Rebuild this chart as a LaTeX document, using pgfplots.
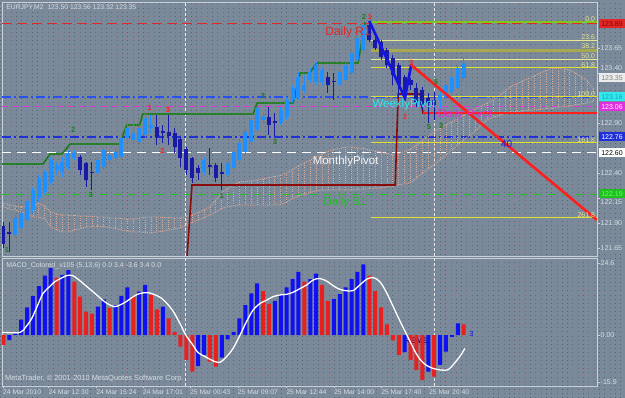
\documentclass[border=0pt]{standalone}
\usepackage{pgfplots}
\pgfplotsset{compat=1.18}
\usepackage{pgfplotstable}
\usepackage{fontspec}
\setmainfont{Liberation Sans}
\usetikzlibrary{patterns}

\definecolor{bg}{HTML}{7A8A9A}
\definecolor{bgdot}{HTML}{56636F}
\definecolor{bgpink}{HTML}{A07888}
\definecolor{frame}{HTML}{C8D0D8}
\definecolor{lbl}{HTML}{D8DEE4}
\definecolor{bullc}{HTML}{1E90FF}
\definecolor{bearc}{HTML}{1A1AA8}
\definecolor{macdb}{HTML}{1010F0}
\definecolor{macdr}{HTML}{E82020}
\definecolor{fibc}{HTML}{E0E030}
\definecolor{fibt}{HTML}{E8E890}
\definecolor{fibz}{HTML}{80C820}
\definecolor{fibo}{HTML}{A8A850}
\definecolor{cloudc}{HTML}{D8A898}
\definecolor{stair}{HTML}{2E8B2E}
\definecolor{stairdk}{HTML}{145014}
\definecolor{maroonc}{HTML}{8B0A0A}
\definecolor{redl}{HTML}{FF1E1E}
\definecolor{r1c}{HTML}{E02828}
\definecolor{pivb}{HTML}{2850F0}
\definecolor{pivb2}{HTML}{2030D8}
\definecolor{magc}{HTML}{E030E0}
\definecolor{cyanc}{HTML}{30E8F0}
\definecolor{grnc}{HTML}{20C020}
\definecolor{wavg}{HTML}{1F7A1F}
\definecolor{zzb}{HTML}{1414E6}

\pgfdeclarepatternformonly{bgdots}{\pgfqpoint{0pt}{0pt}}{\pgfqpoint{1pt}{1pt}}{\pgfqpoint{5.3pt}{4.1pt}}{%
  \pgfpathrectangle{\pgfqpoint{0pt}{0pt}}{\pgfqpoint{0.9pt}{0.9pt}}\pgfusepath{fill}}
\pgfdeclarepatternformonly{bgdots2}{\pgfqpoint{0pt}{0pt}}{\pgfqpoint{1pt}{1pt}}{\pgfqpoint{9.7pt}{7.3pt}}{%
  \pgfpathrectangle{\pgfqpoint{0pt}{0pt}}{\pgfqpoint{0.9pt}{0.9pt}}\pgfusepath{fill}}

\newcommand\sz[1]{\fontsize{#1}{#1}\selectfont}

\pgfplotstableread{
i o h l c
2 121.78 121.98 121.75 121.95
3 121.85 122.03 121.78 122.00
4 121.93 122.15 121.90 122.12
5 122.03 122.26 122.00 122.23
6 122.15 122.38 122.11 122.35
7 122.21 122.43 122.18 122.41
8 122.31 122.56 122.28 122.53
9 122.43 122.51 122.38 122.48
10 122.41 122.56 122.36 122.51
11 122.46 122.63 122.43 122.60
12 122.55 122.63 122.53 122.60
16 122.40 122.56 122.36 122.53
17 122.46 122.65 122.43 122.63
18 122.53 122.63 122.48 122.58
19 122.55 122.65 122.51 122.61
20 122.56 122.80 122.53 122.75
21 122.75 122.93 122.71 122.85
22 122.73 122.96 122.70 122.80
23 122.71 122.88 122.68 122.85
24 122.78 123.01 122.75 122.95
25 122.85 122.98 122.80 122.88
34 122.41 122.56 122.38 122.53
38 122.38 122.53 122.36 122.50
39 122.45 122.63 122.43 122.61
40 122.53 122.73 122.50 122.70
41 122.61 122.85 122.58 122.81
42 122.71 122.95 122.68 122.93
43 122.83 123.08 122.81 123.05
44 122.93 123.01 122.90 122.97
47 122.91 123.06 122.88 123.03
48 122.96 123.16 122.93 123.13
49 123.13 123.28 123.10 123.25
50 123.15 123.41 123.13 123.36
51 123.23 123.38 123.20 123.28
52 123.33 123.45 123.30 123.41
53 123.31 123.51 123.28 123.48
54 123.31 123.46 123.28 123.43
57 123.28 123.44 123.26 123.41
58 123.33 123.51 123.31 123.48
59 123.40 123.63 123.38 123.60
60 123.53 123.78 123.51 123.75
61 123.63 123.91 123.61 123.88
74 123.13 123.23 123.05 123.18
75 123.16 123.30 123.13 123.28
76 123.21 123.45 123.18 123.36
77 123.25 123.48 123.23 123.45
78 123.35 123.56 123.32 123.50
}\bull

\pgfplotstableread{
i o h l c
0 121.87 121.91 121.65 121.69
1 121.81 121.91 121.61 121.79
13 122.56 122.58 122.38 122.43
14 122.50 122.51 122.26 122.33
15 122.41 122.51 122.23 122.40
26 122.86 122.98 122.68 122.76
27 122.82 122.88 122.70 122.80
28 122.81 122.98 122.68 122.77
29 122.80 122.85 122.60 122.66
30 122.74 122.76 122.46 122.55
31 122.64 122.66 122.38 122.43
32 122.55 122.56 122.30 122.35
33 122.45 122.48 122.33 122.40
35 122.48 122.65 122.38 122.46
36 122.48 122.50 122.31 122.35
37 122.41 122.50 122.23 122.39
45 122.96 123.06 122.78 122.88
46 122.92 123.00 122.77 122.90
55 123.36 123.41 123.20 123.28
56 123.32 123.40 123.13 123.31
62 123.88 123.92 123.71 123.73
63 123.73 123.78 123.63 123.65
64 123.71 123.73 123.53 123.56
65 123.63 123.65 123.45 123.48
66 123.55 123.58 123.28 123.38
67 123.48 123.50 123.16 123.28
68 123.36 123.38 123.18 123.21
69 123.33 123.35 123.23 123.28
70 123.25 123.30 123.06 123.11
71 123.23 123.26 123.03 123.08
72 123.15 123.20 122.90 123.10
73 123.13 123.21 122.93 123.08
}\bear

% ichimoku cloud: span at each bar (u = upper, l = lower)
\pgfplotstableread{
i u l
0 122.10 122.06
1 122.08 122.04
2 122.07 122.03
3 122.06 122.01
4 122.065 121.99
5 122.07 121.96
6 122.095 121.96
7 122.07 121.94
8 122.01 121.86
9 121.99 121.83
10 121.98 121.81
11 121.98 121.81
12 121.975 121.83
13 121.97 121.84
14 121.97 121.86
15 121.965 121.865
16 121.96 121.87
17 121.96 121.865
18 121.95 121.855
19 121.95 121.845
20 121.945 121.83
21 121.94 121.82
22 121.94 121.81
23 121.95 121.81
24 121.955 121.805
25 121.96 121.80
26 121.96 121.81
27 121.955 121.82
28 121.955 121.83
29 121.95 121.84
30 121.95 121.85
31 121.965 121.88
32 121.98 121.91
33 122.005 121.93
34 122.03 121.955
35 122.06 121.98
36 122.13 122.01
37 122.20 122.045
38 122.245 122.065
39 122.28 122.07
40 122.31 122.08
41 122.315 122.08
42 122.32 122.08
43 122.33 122.08
44 122.34 122.08
45 122.355 122.08
46 122.365 122.08
47 122.375 122.085
48 122.40 122.11
49 122.435 122.145
50 122.47 122.17
51 122.50 122.19
52 122.53 122.205
53 122.56 122.22
54 122.59 122.23
55 122.615 122.23
56 122.635 122.23
57 122.645 122.23
58 122.66 122.23
59 122.66 122.232
60 122.65 122.236
61 122.645 122.24
62 122.63 122.243
63 122.62 122.247
64 122.61 122.25
65 122.595 122.26
66 122.58 122.27
67 122.597 122.28
68 122.615 122.29
69 122.635 122.305
70 122.68 122.35
71 122.72 122.395
72 122.765 122.44
73 122.81 122.485
74 122.85 122.53
75 122.88 122.58
76 122.91 122.63
77 122.94 122.68
78 122.975 122.73
79 123.01 122.775
80 123.04 122.82
81 123.07 122.88
82 123.10 122.935
83 123.13 122.955
84 123.17 122.975
85 123.22 122.995
86 123.265 123.01
87 123.29 123.015
88 123.32 123.02
89 123.345 123.025
90 123.37 123.03
91 123.40 123.035
92 123.425 123.045
93 123.45 123.05
94 123.445 123.06
95 123.44 123.065
96 123.43 123.07
97 123.395 123.08
98 123.36 123.09
99 123.32 123.10
100 123.24 123.12
}\kumo

\pgfplotstableread{
i p
-0.3 122.49
6.7 122.49
7.9 122.59
9.9 122.59
11.3 122.69
19.7 122.69
20.9 122.88
23.1 122.88
23.6 122.99
42.3 122.99
43.0 123.10
49.1 123.10
50.3 123.40
51.9 123.40
53.1 123.50
60.1 123.50
61.3 123.91
}\stairs

\pgfplotstableread{
i v
1 -1.7
2 0.5
3 5.3
4 9.4
5 13.3
6 16.7
7 20.3
8 22.8
10 20.5
11 22.2
16 9.7
17 12.2
19 10.2
20 13.4
21 16.3
23 14.8
24 17.1
27 9.7
33 -10.6
34 -6.8
37 -7.7
38 -1.5
39 1.1
40 5.7
41 10.2
42 14.2
43 17.6
46 11.7
47 13.9
48 16.3
49 19.1
50 21.6
52 19.1
53 21.0
56 12.3
57 14.0
58 16.3
59 19.1
60 21.6
61 24.1
68 -5.8
72 -12.5
74 -10.2
75 -5.7
76 -0.6
77 4.0
}\macdB

\pgfplotstableread{
i v
0 -3.4
9 19.6
12 18.2
13 13.1
14 8.0
15 7.3
18 9.3
22 13.3
25 13.7
26 8.8
28 5.7
29 1.1
30 -4.0
31 -8.5
32 -12.5
35 -9.1
36 -10.8
44 15.0
45 10.6
51 18.2
54 17.1
55 11.7
62 20.3
63 15.0
64 9.4
65 3.6
66 -1.8
67 -6.8
69 -8.5
70 -11.9
71 -15.4
73 -14.2
78 3.6
}\macdR

\pgfplotstableread{
i v
-0.3 0.9
2.8 0.9
3.8 2.8
4.8 5.7
5.8 10.2
6.7 14.2
7.8 16.5
8.7 18.2
9.7 19.3
10.7 20.3
11.7 20.3
12.8 18.8
13.8 17.1
14.8 15.4
15.8 13.7
16.8 11.9
17.8 10.5
18.8 9.7
19.7 10.2
20.8 11.4
21.7 12.7
22.7 13.9
23.7 14.4
24.7 14.4
25.7 13.7
26.7 12.7
27.7 10.8
28.8 8.0
29.9 4.0
30.9 0.0
32.1 -3.4
33.0 -6.0
34.4 -7.6
35.6 -8.9
36.7 -9.3
37.8 -7.4
38.9 -4.6
40.1 0.0
41.2 4.6
42.3 8.5
43.5 10.8
44.6 11.9
45.7 13.1
46.9 13.7
48.0 13.9
49.1 14.6
50.3 15.9
51.4 17.1
52.5 18.8
53.6 19.3
54.8 18.4
55.9 16.8
57.0 15.6
58.2 15.1
59.3 15.2
60.4 17.1
61.6 19.1
62.7 19.6
63.8 18.2
64.9 14.6
66.1 9.5
67.2 4.8
68.3 0.3
70.0 -6.5
71.2 -9.6
72.3 -11.0
73.4 -11.7
74.5 -12.0
75.4 -11.8
76.2 -10.2
77.4 -7.2
78.2 -4.6
}\signal

\begin{document}
\begin{tikzpicture}
\fill[bg] (0,0) rectangle (625pt,398pt);
\fill[pattern=bgdots, pattern color=bgdot] (0,0) rectangle (625pt,398pt);
\fill[pattern=bgdots2, pattern color=bgpink, xshift=2.3pt, yshift=1.7pt] (0,0) rectangle (620pt,394pt);

%================ MAIN PRICE PANE =================
\begin{axis}[
  at={(2pt,142pt)}, anchor=south west, scale only axis,
  width=595pt, height=254pt,
  xmin=-0.25, xmax=100.6, ymin=121.57, ymax=124.11,
  clip mode=individual,
  axis line style={frame, line width=0.8pt},
  xtick=\empty,
  extra x ticks={30.9,73.1}, extra x tick labels={},
  extra x tick style={grid=major, major tick length=0pt},
  major grid style={white!85!gray, dash pattern=on 3pt off 2pt, line width=0.6pt},
  ytick={121.65,121.90,122.15,122.40,122.90,123.40,123.65},
  yticklabels={121.65,121.90,,122.40,122.90,,123.65},
  ytick pos=right, tick align=outside, major tick length=2.5pt,
  tick style={frame},
  yticklabel style={font=\sz{7}, text=lbl, inner sep=1pt},
]
\pgfplotsset{candle/.style={only marks, mark=*, mark size=0.01pt, mark options={draw opacity=0, fill opacity=0}}}
% pivot / level lines
\addplot[draw=r1c, line width=1pt, dash pattern=on 10pt off 5pt] coordinates {(-0.25,123.89) (100.6,123.89)};
\addplot[draw=pivb, line width=1.2pt, dash pattern=on 9pt off 3pt on 2pt off 3pt] coordinates {(-0.25,123.16) (100.6,123.16)};
\addplot[draw=magc, line width=1pt, dash pattern=on 6pt off 5pt] coordinates {(-0.25,123.06) (100.6,123.06)};
\addplot[draw=pivb2, line width=1.2pt, dash pattern=on 9pt off 3pt on 2pt off 3pt] coordinates {(-0.25,122.76) (100.6,122.76)};
\addplot[draw=white, line width=1pt, dash pattern=on 9pt off 6pt] coordinates {(-0.25,122.60) (100.6,122.60)};
\addplot[draw=grnc, line width=0.8pt, dash pattern=on 8pt off 6pt] coordinates {(-0.25,122.19) (100.6,122.19)};

% kumo cloud: dotted vertical lines per bar plus dotted edges
\addplot[candle, error bars/.cd, y dir=minus, y explicit, error mark=none,
  error bar style={line width=0.8pt, cloudc, dash pattern=on 1pt off 1.2pt}]
  table[x=i, y=u, y error minus expr=\thisrow{u}-\thisrow{l}] {\kumo};
\addplot[draw=cloudc, densely dotted, line width=0.9pt] table[x=i,y=u] {\kumo};
\addplot[draw=cloudc, densely dotted, line width=0.9pt] table[x=i,y=l] {\kumo};

% fibonacci levels
\addplot[draw=fibz, line width=2pt] coordinates {(62.3,123.91) (100.6,123.91)};
\addplot[draw=fibt, line width=0.8pt] coordinates {(62.3,123.73) (100.6,123.73)};
\addplot[draw=fibo, line width=2.2pt] coordinates {(62.3,123.625) (100.6,123.625)};
\addplot[draw=fibt, line width=0.8pt] coordinates {(62.3,123.535) (100.6,123.535)};
\addplot[draw=fibc, line width=1pt] coordinates {(62.3,123.45) (100.6,123.45)};
\addplot[draw=fibc, line width=1pt] coordinates {(62.3,123.16) (100.6,123.16)};
\addplot[draw=fibc, line width=1pt] coordinates {(62.3,122.70) (100.6,122.70)};
\addplot[draw=fibc, line width=1pt] coordinates {(62.3,121.95) (100.6,121.95)};

% trailing stair line
\addplot[draw=stair, line width=1.8pt] table[x=i,y=p] {\stairs};
\addplot[draw=stairdk, line width=0.8pt, densely dotted] table[x=i,y=p] {\stairs};

% maroon step line
\addplot[draw=maroonc, line width=1.6pt] coordinates {(31.1,121.55) (31.95,122.28) (66.4,122.28) (66.9,123.19) (70.6,123.19) (71.1,123.00) (73.5,123.00)};
\addplot[draw=redl, line width=2pt] coordinates {(71.1,123.00) (100.6,123.00)};

% candles: wicks and bodies
\addplot[candle, error bars/.cd, y dir=minus, y explicit, error mark=none,
  error bar style={line width=1pt, bullc}] table[x=i, y=h, y error minus expr=\thisrow{h}-\thisrow{l}] {\bull};
\addplot[candle, error bars/.cd, y dir=minus, y explicit, error mark=none,
  error bar style={line width=4pt, bullc}] table[x=i, y=c, y error minus expr={max(\thisrow{c}-\thisrow{o},0.012)}] {\bull};
\addplot[candle, error bars/.cd, y dir=minus, y explicit, error mark=none,
  error bar style={line width=1pt, bearc}] table[x=i, y=h, y error minus expr=\thisrow{h}-\thisrow{l}] {\bear};
\addplot[candle, error bars/.cd, y dir=minus, y explicit, error mark=none,
  error bar style={line width=4pt, bearc}] table[x=i, y=o, y error minus expr={max(\thisrow{o}-\thisrow{c},0.012)}] {\bear};

% zigzag and trend
\addplot[draw=zzb, line width=2.6pt] coordinates {(62.0,123.92) (68.05,123.15) (69.1,123.48)};
\addplot[draw=redl, line width=2.6pt] coordinates {(69.1,123.48) (100.6,121.93)};

% fib labels
\begin{scope}[every node/.style={font=\sz{7}, text=fibt, inner sep=0.6pt, anchor=south east}]
\node at (axis cs:100.4,123.91) {0.0};
\node at (axis cs:100.4,123.73) {23.6};
\node at (axis cs:100.4,123.64) {38.2};
\node at (axis cs:100.4,123.535) {50.0};
\node at (axis cs:100.4,123.45) {61.8};
\node at (axis cs:100.4,123.16) {100.0};
\node at (axis cs:100.4,122.70) {161.8};
\node at (axis cs:100.4,121.95) {261.8};
\end{scope}

% level names
\node[font=\sz{12}, text=r1c] at (axis cs:58.4,123.81) {Daily R1};
\node[font=\sz{11.5}, text=cyanc] at (axis cs:67.9,123.085) {WeeklyPivot};
\node[font=\sz{11.5}, text=magc] at (axis cs:78.2,122.98) {Daily Pivot};
\node[font=\sz{11.5}, text=white!92!gray] at (axis cs:58.0,122.51) {MonthlyPivot};
\node[font=\sz{11.5}, text=grnc] at (axis cs:57.9,122.105) {Daily S1};
\node[font=\sz{10}, text=zzb] at (axis cs:85.3,122.69) {40};

% wave counts
\begin{scope}[every node/.style={font=\sz{7.5}\bfseries, inner sep=0pt}]
\node[text=wavg] at (axis cs:11.8,122.83) {2};
\node[text=wavg] at (axis cs:14.8,122.18) {3};
\node[text=redl] at (axis cs:24.8,123.05) {1};
\node[text=redl] at (axis cs:27.9,123.03) {3};
\node[text=redl] at (axis cs:26.9,122.62) {2};
\node[text=wavg] at (axis cs:0.6,121.63) {1};
\node[text=wavg] at (axis cs:37.0,122.17) {1};
\node[text=wavg] at (axis cs:44.0,123.17) {3};
\node[text=wavg] at (axis cs:46.0,122.71) {3};
\node[text=wavg] at (axis cs:61.1,123.96) {2};
\node[text=redl] at (axis cs:62.1,123.96) {1};
\node[text=redl] at (axis cs:69.1,123.50) {3};
\node[text=redl] at (axis cs:68.05,122.965) {2};
\node[text=wavg] at (axis cs:73.3,123.31) {5};
\node[text=wavg] at (axis cs:72.1,122.86) {5};
\node[text=wavg] at (axis cs:74.2,122.87) {3};
\end{scope}

% title
\node[anchor=north west, font=\sz{6.8}, text=lbl, inner sep=0pt] at (rel axis cs:0.007,0.99) {EURJPY,M2\ \ 123.50 123.56 123.32 123.35};

% right scale labels that sit beside the boxes
\node[anchor=west, font=\sz{7}, text=lbl, inner sep=1pt, xshift=2.5pt] at (axis cs:100.6,123.445) {123.40};
\node[anchor=west, font=\sz{7}, text=lbl, inner sep=1pt, xshift=2.5pt] at (axis cs:100.6,122.105) {122.15};

% price boxes on the right
\begin{scope}[every node/.style={anchor=west, minimum width=25.5pt, minimum height=9pt, inner sep=0pt, font=\sz{7}}]
\node[fill=r1c, text=black!45!red] at (axis cs:100.95,123.89) {123.89};
\node[fill=white!85!gray, text=gray] at (axis cs:100.95,123.35) {123.35};
\node[fill=cyanc, text=cyanc!70!black] at (axis cs:100.95,123.16) {123.16};
\node[fill=magc, text=white] at (axis cs:100.95,123.06) {123.06};
\node[fill=pivb2, text=white] at (axis cs:100.95,122.76) {122.76};
\node[fill=white, text=black] at (axis cs:100.95,122.60) {122.60};
\node[fill=grnc, text=green!60!white] at (axis cs:100.95,122.19) {122.19};
\end{scope}
\end{axis}

%================ MACD PANE =================
\begin{axis}[
  at={(2pt,12pt)}, anchor=south west, scale only axis,
  width=595pt, height=128pt,
  xmin=-0.25, xmax=100.6, ymin=-17.4, ymax=26.3,
  axis line style={frame, line width=0.8pt},
  xtick={-0.1,7.6,15.7,23.6,31.6,39.7,47.9,56.0,64.0,72.1},
  xticklabels={24 Mar 2010, 24 Mar 12:30, 24 Mar 15:24, 24 Mar 17:01, 25 Mar 00:43, 25 Mar 09:07, 25 Mar 12:44, 25 Mar 14:00, 25 Mar 17:40, 25 Mar 20:40},
  xtick pos=left,
  xticklabel style={font=\sz{6.8}, text=lbl, anchor=north west, inner sep=0.5pt, xshift=-0.5pt, yshift=-0.5pt},
  extra x ticks={30.9,73.1}, extra x tick labels={},
  extra x tick style={grid=major, major tick length=0pt},
  major grid style={white!85!gray, dash pattern=on 3pt off 2pt, line width=0.6pt},
  ytick={-15.9,0,24.6}, yticklabels={-15.9,0.00,24.6},
  ytick pos=right, tick align=outside, major tick length=2.5pt,
  tick style={frame},
  yticklabel style={font=\sz{7}, text=lbl, inner sep=1pt},
]
\node[font=\sz{8}\bfseries, text=bearc!70!black] at (axis cs:69.9,-1.8) {RE\,VE};
\addplot[ybar, bar width=4pt, bar shift=0pt, fill=macdb, draw=none] table[x=i,y=v] {\macdB};
\addplot[ybar, bar width=4pt, bar shift=0pt, fill=macdr, draw=none] table[x=i,y=v] {\macdR};
\addplot[draw=white, line width=1.3pt, smooth] table[x=i,y=v] {\signal};
\node[font=\sz{7.5}, text=zzb] at (axis cs:79.3,0.3) {3};
\node[anchor=north west, font=\sz{7}, text=lbl, inner sep=0pt] at (rel axis cs:0.007,0.965) {MACD\_Colored\_v105 (5,13,6) 0.0 3.4 -3.6 3.4 0.0};
\node[anchor=south west, font=\sz{7.4}, text=lbl, inner sep=0pt] at (rel axis cs:0.005,0.03) {MetaTrader, © 2001-2010 MetaQuotes Software Corp.};
\end{axis}
\pgfresetboundingbox
\useasboundingbox (0,0) rectangle (625pt,398pt);
\end{tikzpicture}
\end{document}
